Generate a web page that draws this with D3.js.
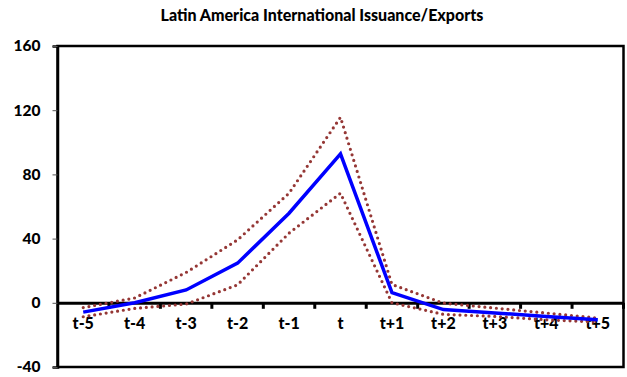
<!DOCTYPE html>
<html><head><meta charset="utf-8">
<script src="https://cdn.jsdelivr.net/npm/d3@7"></script>
<style>body{margin:0;background:#fff}svg{display:block}text{font-family:Lato,"Open Sans",sans-serif;font-weight:900}</style>
</head><body>
<script>
const categories = ["t-5","t-4","t-3","t-2","t-1","t","t+1","t+2","t+3","t+4","t+5"];
const meanValues = [-5.8, 0, 8, 24.7, 55.8, 92.8, 6.3, -4.2, -6.3, -8.5, -10.6];
const upperValues = [-3.0, 3, 18.9, 39.2, 68.3, 115.6, 11.4, -0.2, -3.3, -6.4, -9.5];
const lowerValues = [-8.7, -3.5, -0.8, 11.2, 43.4, 68.3, 0, -7.2, -8.5, -10.6, -12.0];
const yTicks = [-40, 0, 40, 80, 120, 160];
const title = "Latin America International Issuance/Exports";

const W = 627, H = 377;
const L = 57.5, R = 623.5, T = 46, B = 367;
const svg = d3.select("body").append("svg").attr("width", W).attr("height", H);

const x = d3.scaleBand().domain(categories).range([L, R]).padding(0);
const y = d3.scaleLinear().domain([-40, 160]).range([B, T]);
const cx = d => x(d) + x.bandwidth() / 2;

svg.append("text").attr("x", 322).attr("y", 21).attr("text-anchor", "middle")
  .attr("font-size", 16).attr("fill", "#000").text(title);

// plot frame
svg.append("rect").attr("x", L).attr("y", T).attr("width", R - L).attr("height", B - T)
  .attr("fill", "none").attr("stroke", "#000").attr("stroke-width", 2.5);

// y axis
const ya = svg.append("g").attr("transform", `translate(${L},0)`)
  .call(d3.axisLeft(y).tickValues(yTicks).tickSize(5).tickPadding(12).tickFormat(d => String(d)));
ya.select(".domain").attr("stroke", "#000").attr("stroke-width", 2.5);
ya.selectAll(".tick line").attr("stroke", "#555").attr("stroke-width", 1);
ya.selectAll("text").attr("font-size", 15.5).attr("fill", "#000").attr("font-family", "Lato,sans-serif");

// x axis at zero
const xa = svg.append("g").attr("transform", `translate(0,${y(0)})`)
  .call(d3.axisBottom(x).tickSize(0).tickPadding(15));
xa.select(".domain").attr("stroke", "#000").attr("stroke-width", 3);
xa.selectAll("text").attr("font-size", 16).attr("fill", "#000").attr("font-family", "Lato,sans-serif");
// tick marks at category boundaries
const bounds = categories.map(c => x(c)).concat([R]);
svg.append("g").selectAll("line").data(bounds.slice(1)).join("line")
  .attr("x1", d => d).attr("x2", d => d).attr("y1", y(0)).attr("y2", y(0) + 6)
  .attr("stroke", "#000").attr("stroke-width", 3);

const line = d3.line().x((d, i) => cx(categories[i])).y(d => y(d));

[upperValues, lowerValues].forEach(vals => {
  svg.append("path").attr("d", line(vals)).attr("fill", "none")
    .attr("stroke", "#953735").attr("stroke-width", 3.2)
    .attr("stroke-linecap", "round").attr("stroke-dasharray", "0,5.8");
});
svg.append("path").attr("d", line(meanValues)).attr("fill", "none")
  .attr("stroke", "#0000FF").attr("stroke-width", 3.5).attr("stroke-linejoin", "miter");
</script>
</body></html>
